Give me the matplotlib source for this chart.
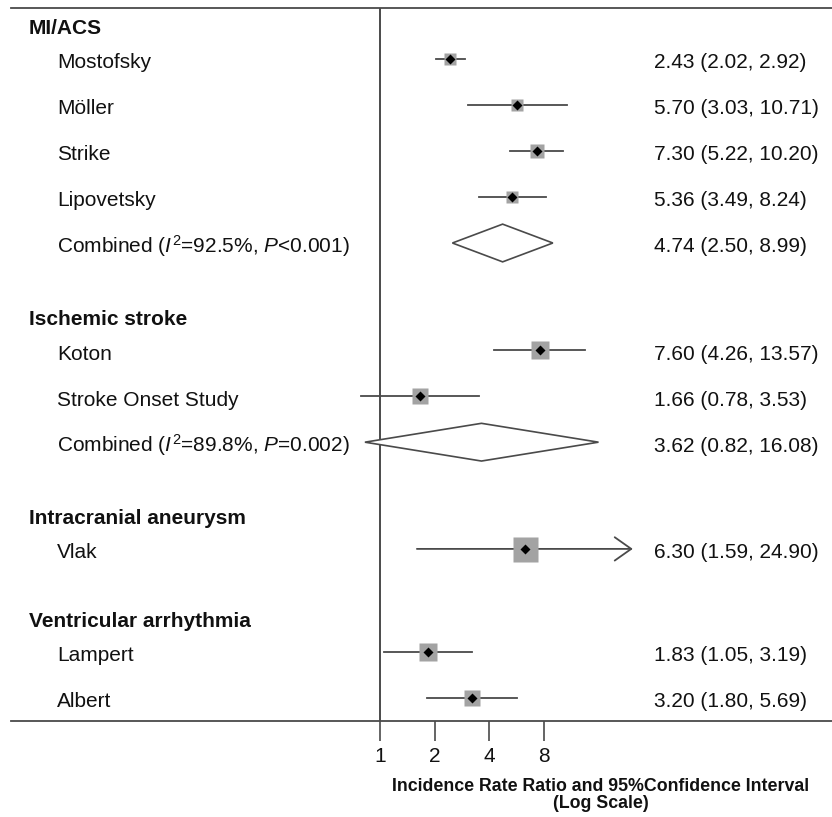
import numpy as np
import matplotlib
matplotlib.use("Agg")
import matplotlib.pyplot as plt
from matplotlib.patches import Polygon
from matplotlib import transforms

plt.rcParams['font.family'] = ['Liberation Sans', 'DejaVu Sans']
plt.rcParams['mathtext.fontset'] = 'custom'
plt.rcParams['mathtext.rm'] = 'Liberation Sans'
plt.rcParams['mathtext.it'] = 'Liberation Sans:italic'

# ── DATA ─────────────────────────────────────────────────────────────────────
groups = ["MI/ACS", "Ischemic stroke", "Intracranial aneurysm", "Ventricular arrhythmia"]

study_group = [0, 0, 0, 0, 1, 1, 2, 3, 3]
study_names = ["Mostofsky", "Möller", "Strike", "Lipovetsky",
               "Koton", "Stroke Onset Study", "Vlak", "Lampert", "Albert"]
study_est = [2.43, 5.70, 7.30, 5.36, 7.60, 1.66, 6.30, 1.83, 3.20]
study_lo  = [2.02, 3.03, 5.22, 3.49, 4.26, 0.78, 1.59, 1.05, 1.80]
study_hi  = [2.92, 10.71, 10.20, 8.24, 13.57, 3.53, 24.90, 3.19, 5.69]
study_wt  = [27, 20, 28, 23, 52, 46, 100, 52, 46]   # relative weight (box area)

comb_group  = [0, 1]
comb_labels = [r"Combined ($\mathit{I}^{2}$=92.5%, $\mathit{P}$<0.001)",
               r"Combined ($\mathit{I}^{2}$=89.8%, $\mathit{P}$=0.002)"]
comb_est = [4.74, 3.62]
comb_lo  = [2.50, 0.82]
comb_hi  = [8.99, 16.08]

clip_max = 24.0   # CIs beyond this get an arrow

# ── LAYOUT (row positions, 1 row = 46 px) ─────────────────────────────────────
header_off = 0.55
group_gap = [1.33, 1.32, 1.24, 0]
header_y, study_y, comb_y = [], [], []
cur = 0.0
for g in range(len(groups)):
    header_y.append(cur - header_off)
    for sg in study_group:
        if sg == g:
            study_y.append(cur)
            cur += 1
    if g in comb_group:
        comb_y.append(cur)
        cur += 1
    cur += group_gap[g]

# ── FIGURE ───────────────────────────────────────────────────────────────────
W, H = 832, 817
fig = plt.figure(figsize=(W / 100, H / 100), dpi=100)
ax = fig.add_axes([11 / W, (H - 721) / H, (W - 11) / W, (721 - 8) / H])
ax.set_xscale("log", base=2)
x0, k = 380.5, 54.4                      # pixel of x=1, pixels per doubling
ax.set_xlim(2 ** ((11 - x0) / k), 2 ** ((W - x0) / k))
ax.set_ylim((721 - 59) / 46, (8 - 59) / 46)

line_col = "#4a4a4a"
box_col = "#a3a3a3"
txt_col = "#111111"

ax.axvline(1, color=line_col, lw=1.4, zorder=1)

for i in range(len(study_names)):
    y = study_y[i]
    if study_hi[i] > clip_max:
        ax.annotate("", xy=(study_hi[i], y), xytext=(study_lo[i], y),
                    arrowprops=dict(arrowstyle="->, head_length=0.85, head_width=0.6",
                                    color=line_col, lw=1.3, mutation_scale=14,
                                    shrinkA=0, shrinkB=0), zorder=2)
    else:
        ax.plot([study_lo[i], study_hi[i]], [y, y], color=line_col, lw=1.3, zorder=2)
    side = 25 * np.sqrt(study_wt[i] / 100) / (100 / 72)
    ax.plot(study_est[i], y, marker="s", ms=side, color=box_col, mec="none", zorder=3)
    ax.plot(study_est[i], y, marker="D", ms=4.9, color="black", mec="none", zorder=4)

half_h = 0.41
for j in range(len(comb_est)):
    y = comb_y[j]
    poly = Polygon([(comb_lo[j], y), (comb_est[j], y - half_h),
                    (comb_hi[j], y), (comb_est[j], y + half_h)],
                   closed=True, fc="white", ec=line_col, lw=1.2, zorder=3)
    ax.add_patch(poly)

# ── TEXT ─────────────────────────────────────────────────────────────────────
tr = transforms.blended_transform_factory(ax.transAxes, ax.transData)
fx = lambda px: (px - 11) / (W - 11)
base = 9.5 / 46   # text baseline sits a little below the row centre

for g, name in enumerate(groups):
    ax.text(fx(29), header_y[g], name, transform=tr, ha="left", va="baseline",
            fontsize=15, fontweight="bold", color=txt_col)

for i, name in enumerate(study_names):
    ax.text(fx(57), study_y[i] + base, name, transform=tr, ha="left", va="baseline",
            fontsize=15, color=txt_col)
    ax.text(fx(654), study_y[i] + base,
            f"{study_est[i]:.2f} ({study_lo[i]:.2f}, {study_hi[i]:.2f})",
            transform=tr, ha="left", va="baseline", fontsize=15, color=txt_col)

for j, lab in enumerate(comb_labels):
    ax.text(fx(57), comb_y[j] + base, lab, transform=tr, ha="left", va="baseline",
            fontsize=15, color=txt_col)
    ax.text(fx(654), comb_y[j] + base,
            f"{comb_est[j]:.2f} ({comb_lo[j]:.2f}, {comb_hi[j]:.2f})",
            transform=tr, ha="left", va="baseline", fontsize=15, color=txt_col)

# ── AXES STYLE ───────────────────────────────────────────────────────────────
for s in ["left", "right"]:
    ax.spines[s].set_visible(False)
for s in ["top", "bottom"]:
    ax.spines[s].set_color(line_col)
    ax.spines[s].set_linewidth(1.3)

ax.set_yticks([])
ax.set_xticks([1, 2, 4, 8])
ax.set_xticklabels(["1", "2", "4", "8"])
ax.xaxis.set_minor_locator(matplotlib.ticker.NullLocator())
ax.tick_params(axis="x", direction="out", length=14.4, width=1.2, color=line_col,
               pad=4, labelsize=15, labelcolor=txt_col)

fig.text(601 / W, 1 - 791 / H, "Incidence Rate Ratio and 95%Confidence Interval",
         ha="center", va="baseline", fontsize=12.8, fontweight="bold", color=txt_col)
fig.text(601 / W, 1 - 808 / H, "(Log Scale)",
         ha="center", va="baseline", fontsize=12.8, fontweight="bold", color=txt_col)

fig.savefig("out.png", dpi=100)
